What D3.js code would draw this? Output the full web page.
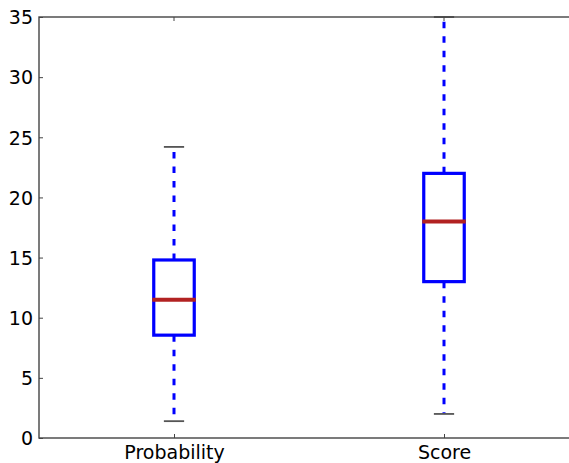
<!DOCTYPE html>
<html>
<head>
<meta charset="utf-8">
<script src="https://cdn.jsdelivr.net/npm/d3@7/dist/d3.min.js"></script>
<style>
  html, body { margin: 0; padding: 0; background: #fff; }
  svg { display: block; }
  text { font-family: "DejaVu Sans", sans-serif; }
</style>
</head>
<body>
<svg id="chart" width="569" height="463"></svg>
<script>
// Box-plot summaries per category
const categories = ["Probability", "Score"];
const whiskerLow = [1.4, 2.0];
const q1 = [8.55, 13.0];
const median = [11.5, 18.0];
const q3 = [14.8, 22.0];
const whiskerHigh = [24.2, 35.0];
const yTicks = [0, 5, 10, 15, 20, 25, 30, 35];

(function draw() {
  const svg = d3.select("#chart");
  const plotLeft = 39, plotTop = 17, plotBottom = 438;
  const x = d3.scaleLinear().domain([0.5, 2.5]).range([plotLeft, plotLeft + 540]);
  const y = d3.scaleLinear().domain([0, 35]).range([plotBottom, plotTop]);
  const plotRight = x(2.5);

  const boxHalf = 0.075;   // in x-data units
  const capHalf = 0.0375;
  const axisColor = "#444";
  const fontSize = "19px";

  const boxes = categories.map((c, i) => ({
    c, pos: i + 1, lo: whiskerLow[i], q1: q1[i], med: median[i], q3: q3[i], hi: whiskerHigh[i]
  }));

  const g = svg.append("g");

  // whiskers (dashed)
  g.selectAll(".wh-low").data(boxes).join("line")
    .attr("x1", d => x(d.pos)).attr("x2", d => x(d.pos))
    .attr("y1", d => y(d.q1)).attr("y2", d => y(d.lo))
    .attr("stroke", "#0000ff").attr("stroke-width", 3)
    .attr("stroke-dasharray", "6.5,8");
  g.selectAll(".wh-high").data(boxes).join("line")
    .attr("x1", d => x(d.pos)).attr("x2", d => x(d.pos))
    .attr("y1", d => y(d.q3)).attr("y2", d => y(d.hi))
    .attr("stroke", "#0000ff").attr("stroke-width", 3)
    .attr("stroke-dasharray", "6.5,8");

  // caps
  g.selectAll(".cap-low").data(boxes).join("line")
    .attr("x1", d => x(d.pos - capHalf)).attr("x2", d => x(d.pos + capHalf))
    .attr("y1", d => y(d.lo)).attr("y2", d => y(d.lo))
    .attr("stroke", "#555").attr("stroke-width", 1.8);
  g.selectAll(".cap-high").data(boxes).join("line")
    .attr("x1", d => x(d.pos - capHalf)).attr("x2", d => x(d.pos + capHalf))
    .attr("y1", d => y(d.hi)).attr("y2", d => y(d.hi))
    .attr("stroke", "#555").attr("stroke-width", 1.8);

  // boxes
  g.selectAll(".box").data(boxes).join("rect")
    .attr("x", d => x(d.pos - boxHalf))
    .attr("width", d => x(d.pos + boxHalf) - x(d.pos - boxHalf))
    .attr("y", d => y(d.q3))
    .attr("height", d => y(d.q1) - y(d.q3))
    .attr("fill", "none").attr("stroke", "#0000ff").attr("stroke-width", 3.2);

  // medians
  g.selectAll(".med").data(boxes).join("line")
    .attr("x1", d => x(d.pos - boxHalf) - 1.5).attr("x2", d => x(d.pos + boxHalf) + 1.5)
    .attr("y1", d => y(d.med)).attr("y2", d => y(d.med))
    .attr("stroke", "#b22222").attr("stroke-width", 4);

  // axes frame
  svg.append("rect").attr("x", plotLeft).attr("y", plotTop)
    .attr("width", plotRight - plotLeft).attr("height", plotBottom - plotTop)
    .attr("fill", "none").attr("stroke", axisColor).attr("stroke-width", 1.4);

  // y axis with inward ticks
  const yAxis = svg.append("g").attr("transform", `translate(${plotLeft},0)`)
    .call(d3.axisLeft(y).tickValues(yTicks).tickSizeInner(-4).tickSizeOuter(0).tickPadding(6));
  yAxis.select(".domain").remove();
  yAxis.selectAll("line").attr("stroke", axisColor).attr("stroke-width", 1);
  yAxis.selectAll("text").attr("font-size", fontSize).attr("fill", "#000")
    .attr("font-family", "DejaVu Sans, sans-serif").attr("dy", "0.36em");

  // x axis (bottom) with inward ticks and category labels
  const xAxis = svg.append("g").attr("transform", `translate(0,${plotBottom})`)
    .call(d3.axisBottom(x).tickValues(boxes.map(d => d.pos))
      .tickFormat((d, i) => categories[i]).tickSizeInner(-4).tickSizeOuter(0).tickPadding(8));
  xAxis.select(".domain").remove();
  xAxis.selectAll("line").attr("stroke", axisColor).attr("stroke-width", 1);
  xAxis.selectAll("text").attr("font-size", fontSize).attr("fill", "#000")
    .attr("font-family", "DejaVu Sans, sans-serif");

  // top ticks mirrored
  svg.append("g").selectAll("line").data(boxes).join("line")
    .attr("x1", d => x(d.pos)).attr("x2", d => x(d.pos))
    .attr("y1", plotTop).attr("y2", plotTop + 4)
    .attr("stroke", axisColor).attr("stroke-width", 1);
})();
</script>
</body>
</html>
